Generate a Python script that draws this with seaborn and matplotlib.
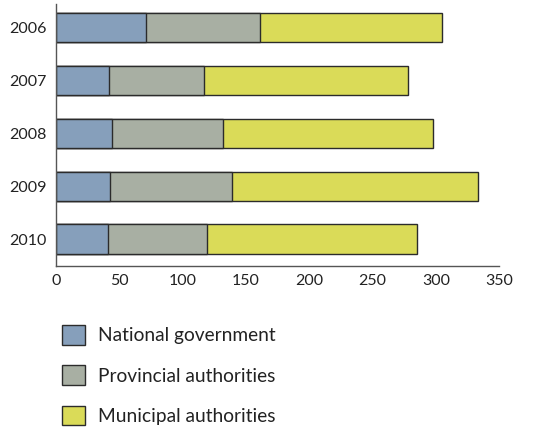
import pandas as pd
import matplotlib
matplotlib.use('Agg')
import matplotlib.pyplot as plt
from matplotlib.patches import Patch
import seaborn as sns

# values
years = ['2006', '2007', '2008', '2009', '2010']
national = [71, 42, 44, 43, 41]
provincial = [90, 75, 88, 96, 78]
municipal = [144, 161, 166, 194, 166]

labels = ['National government', 'Provincial authorities', 'Municipal authorities']
colors = ['#869fbb', '#a8afa3', '#dadb58']

df = pd.DataFrame({'year': years, 'national': national,
                   'provincial': provincial, 'municipal': municipal})
df['cum_nat'] = df['national']
df['cum_prov'] = df['cum_nat'] + df['provincial']
df['cum_mun'] = df['cum_prov'] + df['municipal']

sns.set_style('white')
plt.rcParams['font.family'] = ['Lato', 'DejaVu Sans']

fig = plt.figure(figsize=(5.39, 4.32), dpi=100)
ax = fig.add_axes([0.1039, 0.384, 0.8224, 0.6067])

# stacked bars: draw totals first, then overlay the shorter cumulative parts
for col, color in zip(['cum_mun', 'cum_prov', 'cum_nat'], colors[::-1]):
    sns.barplot(data=df, x=col, y='year', orient='h', color=color, saturation=1,
                width=0.56, edgecolor='#2b2b2b', linewidth=1.0, ax=ax)

ax.set_xlim(0, 350)
ax.set_ylim(4.506, -0.444)
ax.set_xticks(range(0, 351, 50))
ax.set_xlabel('')
ax.set_ylabel('')
ax.tick_params(axis='x', direction='in', length=6, width=1, color='#444444',
               labelsize=11.5, labelcolor='#222222', pad=6)
ax.tick_params(axis='y', length=0, labelsize=11.5, labelcolor='#222222', pad=7)
for side in ['top', 'right']:
    ax.spines[side].set_visible(False)
for side in ['left', 'bottom']:
    ax.spines[side].set_color('#555555')
    ax.spines[side].set_linewidth(1.0)

handles = [Patch(facecolor=c, edgecolor='#2b2b2b', linewidth=1.0) for c in colors]
fig.legend(handles, labels, loc='upper left', bbox_to_anchor=(0.098, 0.27),
           frameon=False, fontsize=13.8, handlelength=1.2, handleheight=1.2,
           labelspacing=1.08, handletextpad=0.65, borderpad=0, labelcolor='#222222')

fig.savefig('out.png', dpi=100)
